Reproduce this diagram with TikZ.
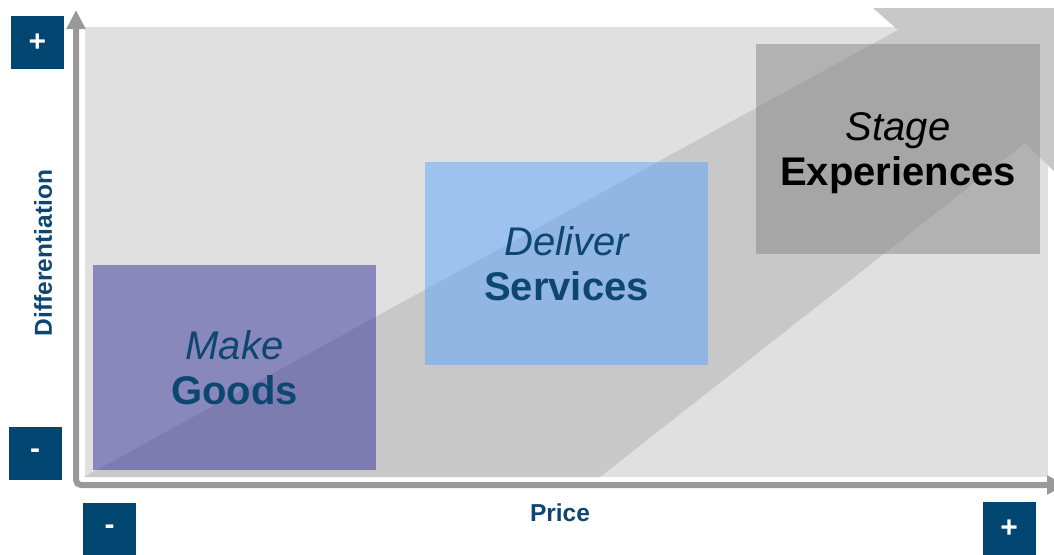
\documentclass[tikz,border=0pt]{standalone}
\usepackage{fontspec}
\setmainfont{Liberation Sans}
\usetikzlibrary{arrows.meta}
\definecolor{signblue}{RGB}{0,70,112}
\definecolor{labelblue}{RGB}{14,70,114}
\definecolor{panelgray}{RGB}{224,224,224}
\definecolor{bandgray}{RGB}{200,200,200}
\definecolor{axisgray}{RGB}{153,153,153}
\definecolor{goodsfill}{RGB}{52,50,154}
\definecolor{servicesfill}{RGB}{94,166,255}
\definecolor{stagefill}{RGB}{134,134,134}
\tikzstyle{stepbox} = [
  rectangle, inner sep=0pt, fill opacity=0.5, text opacity=1,
  align=center, text depth=0pt, font=\fontsize{40}{45}\selectfont
]
\tikzstyle{signbox} = [
  rectangle, fill=signblue, text=white, minimum size=53pt, inner sep=0pt,
  font=\fontsize{30}{30}\selectfont\bfseries
]
\tikzstyle{axislabel} = [text=labelblue, font=\fontsize{24.5}{24.5}\selectfont\bfseries]
\tikzstyle{axis} = [
  line width=6pt, axisgray, rounded corners=5pt,
  {Triangle[width=18pt,length=19pt]}-{Triangle[width=18pt,length=19pt]}
]

\begin{document}
\begin{tikzpicture}[x=1pt, y=-1pt]

  \clip (0,0) rectangle (1054,554);
  \fill[white] (0,0) rectangle (1054,554);

  \fill[panelgray] (85,27) rectangle (1048,477);
  \fill[bandgray] (84,477) -- (898,30) -- (873,8) -- (1070,8) -- (1070,187)
    -- (1025,143) -- (600,477) -- cycle;

  \node[stepbox, fill=goodsfill, text=labelblue, minimum width=283pt, minimum height=205pt]
    (goods) at (234.5,367.5) {{\itshape Make}\\{\bfseries Goods}};
  \node[stepbox, fill=servicesfill, text=labelblue, minimum width=283pt, minimum height=203pt]
    (services) at (566.5,263.5) {{\itshape Deliver}\\{\bfseries Services}};
  \node[stepbox, fill=stagefill, text=black, minimum width=284pt, minimum height=210pt]
    (experiences) at (898,149) {{\itshape Stage}\\{\bfseries Experiences}};

  \coordinate (ytop) at (76,10);
  \coordinate (origin) at (76,485);
  \coordinate (xend) at (1066,485);
  \draw[axis] (ytop) -- (origin) -- (xend);

  \node[signbox] (ymax) at (37.5,42.5) {+};
  \node[signbox] (ymin) at (35,453.5) {-};
  \node[signbox] (xmin) at (109.5,529.5) {-};
  \node[signbox] (xmax) at (1009,528.5) {+};

  \node[axislabel, rotate=90] (ylabel) at (43,253) {Differentiation};
  \node[axislabel] (xlabel) at (560,513) {Price};

\end{tikzpicture}
\end{document}
